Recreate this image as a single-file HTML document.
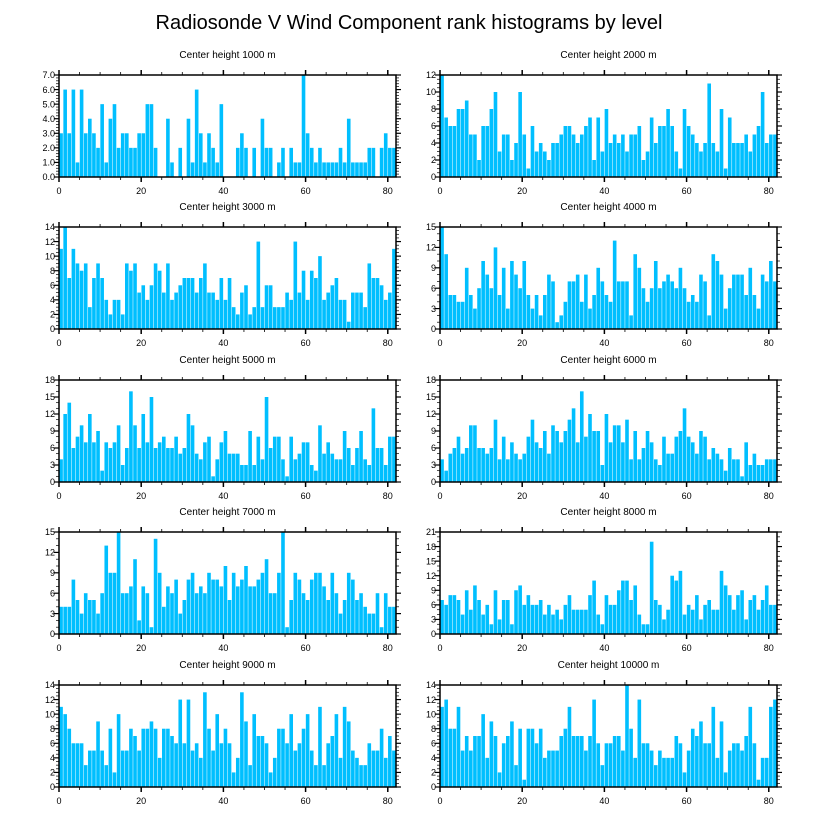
<!DOCTYPE html>
<html><head><meta charset="utf-8"><style>
html,body{margin:0;padding:0;background:#fff;}
svg{display:block;font-family:"Liberation Sans",Arial,sans-serif;}
</style></head><body>
<svg id="chart" width="818" height="824" viewBox="0 0 818 824" xmlns="http://www.w3.org/2000/svg">
<text x="409" y="29" font-size="20" text-anchor="middle" fill="#000">Radiosonde V Wind Component rank histograms by level</text>
</svg>
<script>
const panelTitles = ["Center height 1000 m","Center height 2000 m","Center height 3000 m","Center height 4000 m","Center height 5000 m","Center height 6000 m","Center height 7000 m","Center height 8000 m","Center height 9000 m","Center height 10000 m"];
const yMaxes = [7,12,14,15,18,18,15,21,14,14];
const ySteps = [1,2,2,3,3,3,3,3,2,2];
const xTicks = [0,20,40,60,80];
const h1000 = [3,6,3,6,1,6,3,4,3,2,5,1,4,5,2,3,3,2,2,3,3,5,5,2,0,0,4,1,0,2,0,4,1,6,3,1,3,2,1,5,0,0,0,2,3,2,0,2,0,4,2,2,0,1,2,0,2,1,1,7,3,2,1,2,1,1,1,1,2,1,4,1,1,1,1,2,2,0,2,3,2,2];
const h2000 = [12,7,6,6,8,8,9,5,5,2,6,6,8,10,3,5,5,2,4,10,5,1,6,3,4,3,2,4,4,5,6,6,5,4,5,6,7,2,7,3,8,4,5,4,5,3,5,5,6,2,3,7,4,6,6,8,6,3,1,8,6,5,4,3,4,11,4,3,8,1,7,4,4,4,5,3,5,6,10,4,5,5];
const h3000 = [11,14,7,11,9,8,9,3,7,9,7,4,2,4,4,2,9,8,9,5,6,4,6,9,8,5,9,4,5,6,7,7,7,5,7,9,5,5,4,7,4,7,3,2,5,6,2,3,12,3,6,6,3,3,3,5,4,12,5,8,4,8,7,10,4,5,6,7,4,4,1,5,5,5,3,9,7,7,6,4,5,11];
const h4000 = [15,11,5,5,4,4,9,5,3,6,10,8,6,12,5,9,3,10,8,6,10,5,3,5,2,5,8,7,1,2,4,7,7,8,4,8,3,5,9,7,5,4,13,7,7,7,2,11,9,6,4,6,10,6,7,8,7,6,9,6,4,5,4,8,7,2,11,10,8,3,6,8,8,8,5,9,5,3,8,7,10,7];
const h5000 = [4,12,14,6,8,10,7,12,7,9,2,7,6,7,10,3,6,16,10,6,12,7,15,6,7,8,6,6,8,5,6,12,10,5,4,7,8,1,4,7,9,5,5,5,3,3,9,3,8,4,15,6,8,8,4,1,8,4,5,7,7,3,2,10,5,7,5,4,4,9,6,3,6,9,4,3,13,6,6,3,8,8];
const h6000 = [4,2,5,6,8,5,6,10,10,6,6,5,6,11,4,8,4,7,5,4,5,8,11,7,6,9,5,10,9,7,9,11,13,7,16,8,12,9,9,3,12,7,10,10,7,11,4,9,4,6,9,7,4,3,8,5,5,8,9,13,8,7,5,9,8,4,6,5,4,2,6,4,4,1,7,3,5,3,3,4,4,4];
const h7000 = [4,4,4,8,5,3,6,5,5,3,6,13,9,9,15,6,6,7,11,2,7,6,1,14,9,4,7,6,8,3,5,8,9,6,7,6,9,8,8,7,10,5,9,7,8,10,7,7,8,9,11,6,6,9,15,1,5,9,8,6,5,8,9,9,7,5,9,6,3,5,9,8,5,6,4,3,3,6,1,6,4,4];
const h8000 = [7,6,8,8,7,4,9,5,10,7,4,6,2,9,3,7,7,2,9,10,6,8,6,6,7,4,6,4,5,3,6,8,5,5,5,5,8,11,4,2,8,6,6,9,11,11,7,10,4,2,2,19,7,6,3,5,12,11,13,4,6,5,8,3,6,7,5,5,13,10,8,5,8,9,3,7,8,5,7,10,6,6];
const h9000 = [11,10,8,6,6,6,3,5,5,9,5,3,8,2,10,5,5,8,7,5,8,8,9,8,4,8,8,7,6,12,6,12,5,6,4,13,8,5,10,6,8,6,2,4,13,9,3,10,7,7,6,2,4,8,8,6,10,5,6,8,10,5,3,11,3,6,7,10,4,11,9,5,4,3,3,6,5,5,8,4,7,5];
const h10000 = [11,12,8,8,11,5,7,5,7,7,10,4,9,7,2,6,7,9,3,8,1,8,8,6,8,4,5,5,5,7,8,11,7,7,7,5,7,12,6,3,6,6,7,7,5,14,8,4,12,6,6,5,3,5,4,4,4,7,6,2,5,8,7,9,6,6,11,4,9,2,5,6,6,5,7,11,6,1,4,4,11,12];
const seriesList = [h1000,h2000,h3000,h4000,h5000,h6000,h7000,h8000,h9000,h10000];

const NS = "http://www.w3.org/2000/svg";
const svg = document.getElementById("chart");
const LEFTS = [59, 440], PW = 337, PH = 102;
const TOPS = [75, 227, 380, 532, 685];
const XMAX = 82;
function mk(tag, attrs, parent){const e=document.createElementNS(NS,tag);for(const k in attrs)e.setAttribute(k,attrs[k]);(parent||svg).appendChild(e);return e;}

seriesList.forEach(function(vals, p){
  const col = p % 2, row = Math.floor(p / 2);
  const L = LEFTS[col], T = TOPS[row], B = T + PH, R = L + PW;
  const ymax = yMaxes[p], ystep = ySteps[p];
  const xs = function(v){return L + v / XMAX * PW;};
  const ys = function(v){return B - v / ymax * PH;};
  const g = mk("g", {});
  
  
  const title = mk("text", {x: (L + R) / 2, y: T - 17, "font-size": 10, "text-anchor": "middle", fill: "#000"}, g);
  
  
  title.textContent = panelTitles[p];
  vals.forEach(function(v, i){
    if (v <= 0) return;
    const r = mk("rect", {x: xs(i) + 0.25, y: ys(v), width: Math.max(0.5, xs(i + 1) - xs(i) - 0.5), height: B - ys(v), fill: "#00BFFF"}, g);
    
    
  });
  const frame = mk("rect", {x: L, y: T, width: PW, height: PH, fill: "none", stroke: "#000", "stroke-width": 1.5}, g);
  
  
  // x ticks
  for (let v = 0; v <= XMAX; v += 5) {
    const major = xTicks.indexOf(v) >= 0;
    const len = major ? 5 : 3;
    mk("line", {x1: xs(v), x2: xs(v), y1: B, y2: B + len, stroke: "#000", "stroke-width": major ? 1.5 : 0.8}, g);
    mk("line", {x1: xs(v), x2: xs(v), y1: T, y2: T - len, stroke: "#000", "stroke-width": major ? 1.5 : 0.8}, g);
  }
  xTicks.forEach(function(v){
    const t = mk("text", {x: xs(v), y: B + 17, "font-size": 9, "text-anchor": "middle", fill: "#000"}, g);
    
    
    t.textContent = v;
  });
  // y ticks
  const nMinor = ystep === 3 ? 3 : (ystep === 2 ? 4 : 5);
  const minorStep = ystep / nMinor;
  for (let k = 0; k <= Math.round(ymax / minorStep); k++) {
    const v = k * minorStep;
    const major = k % nMinor === 0;
    const len = major ? 5 : 3;
    mk("line", {x1: L, x2: L - len, y1: ys(v), y2: ys(v), stroke: "#000", "stroke-width": major ? 1.2 : 0.7}, g);
    mk("line", {x1: R, x2: R + len, y1: ys(v), y2: ys(v), stroke: "#000", "stroke-width": major ? 1.2 : 0.7}, g);
  }
  for (let v = 0; v <= ymax + 1e-9; v += ystep) {
    const t = mk("text", {x: L - 4, y: ys(v) + 3.2, "font-size": 9, "text-anchor": "end", fill: "#000"}, g);
    
    
    t.textContent = p === 0 ? v.toFixed(1) : String(v);
  }
});
</script>
</body></html>
